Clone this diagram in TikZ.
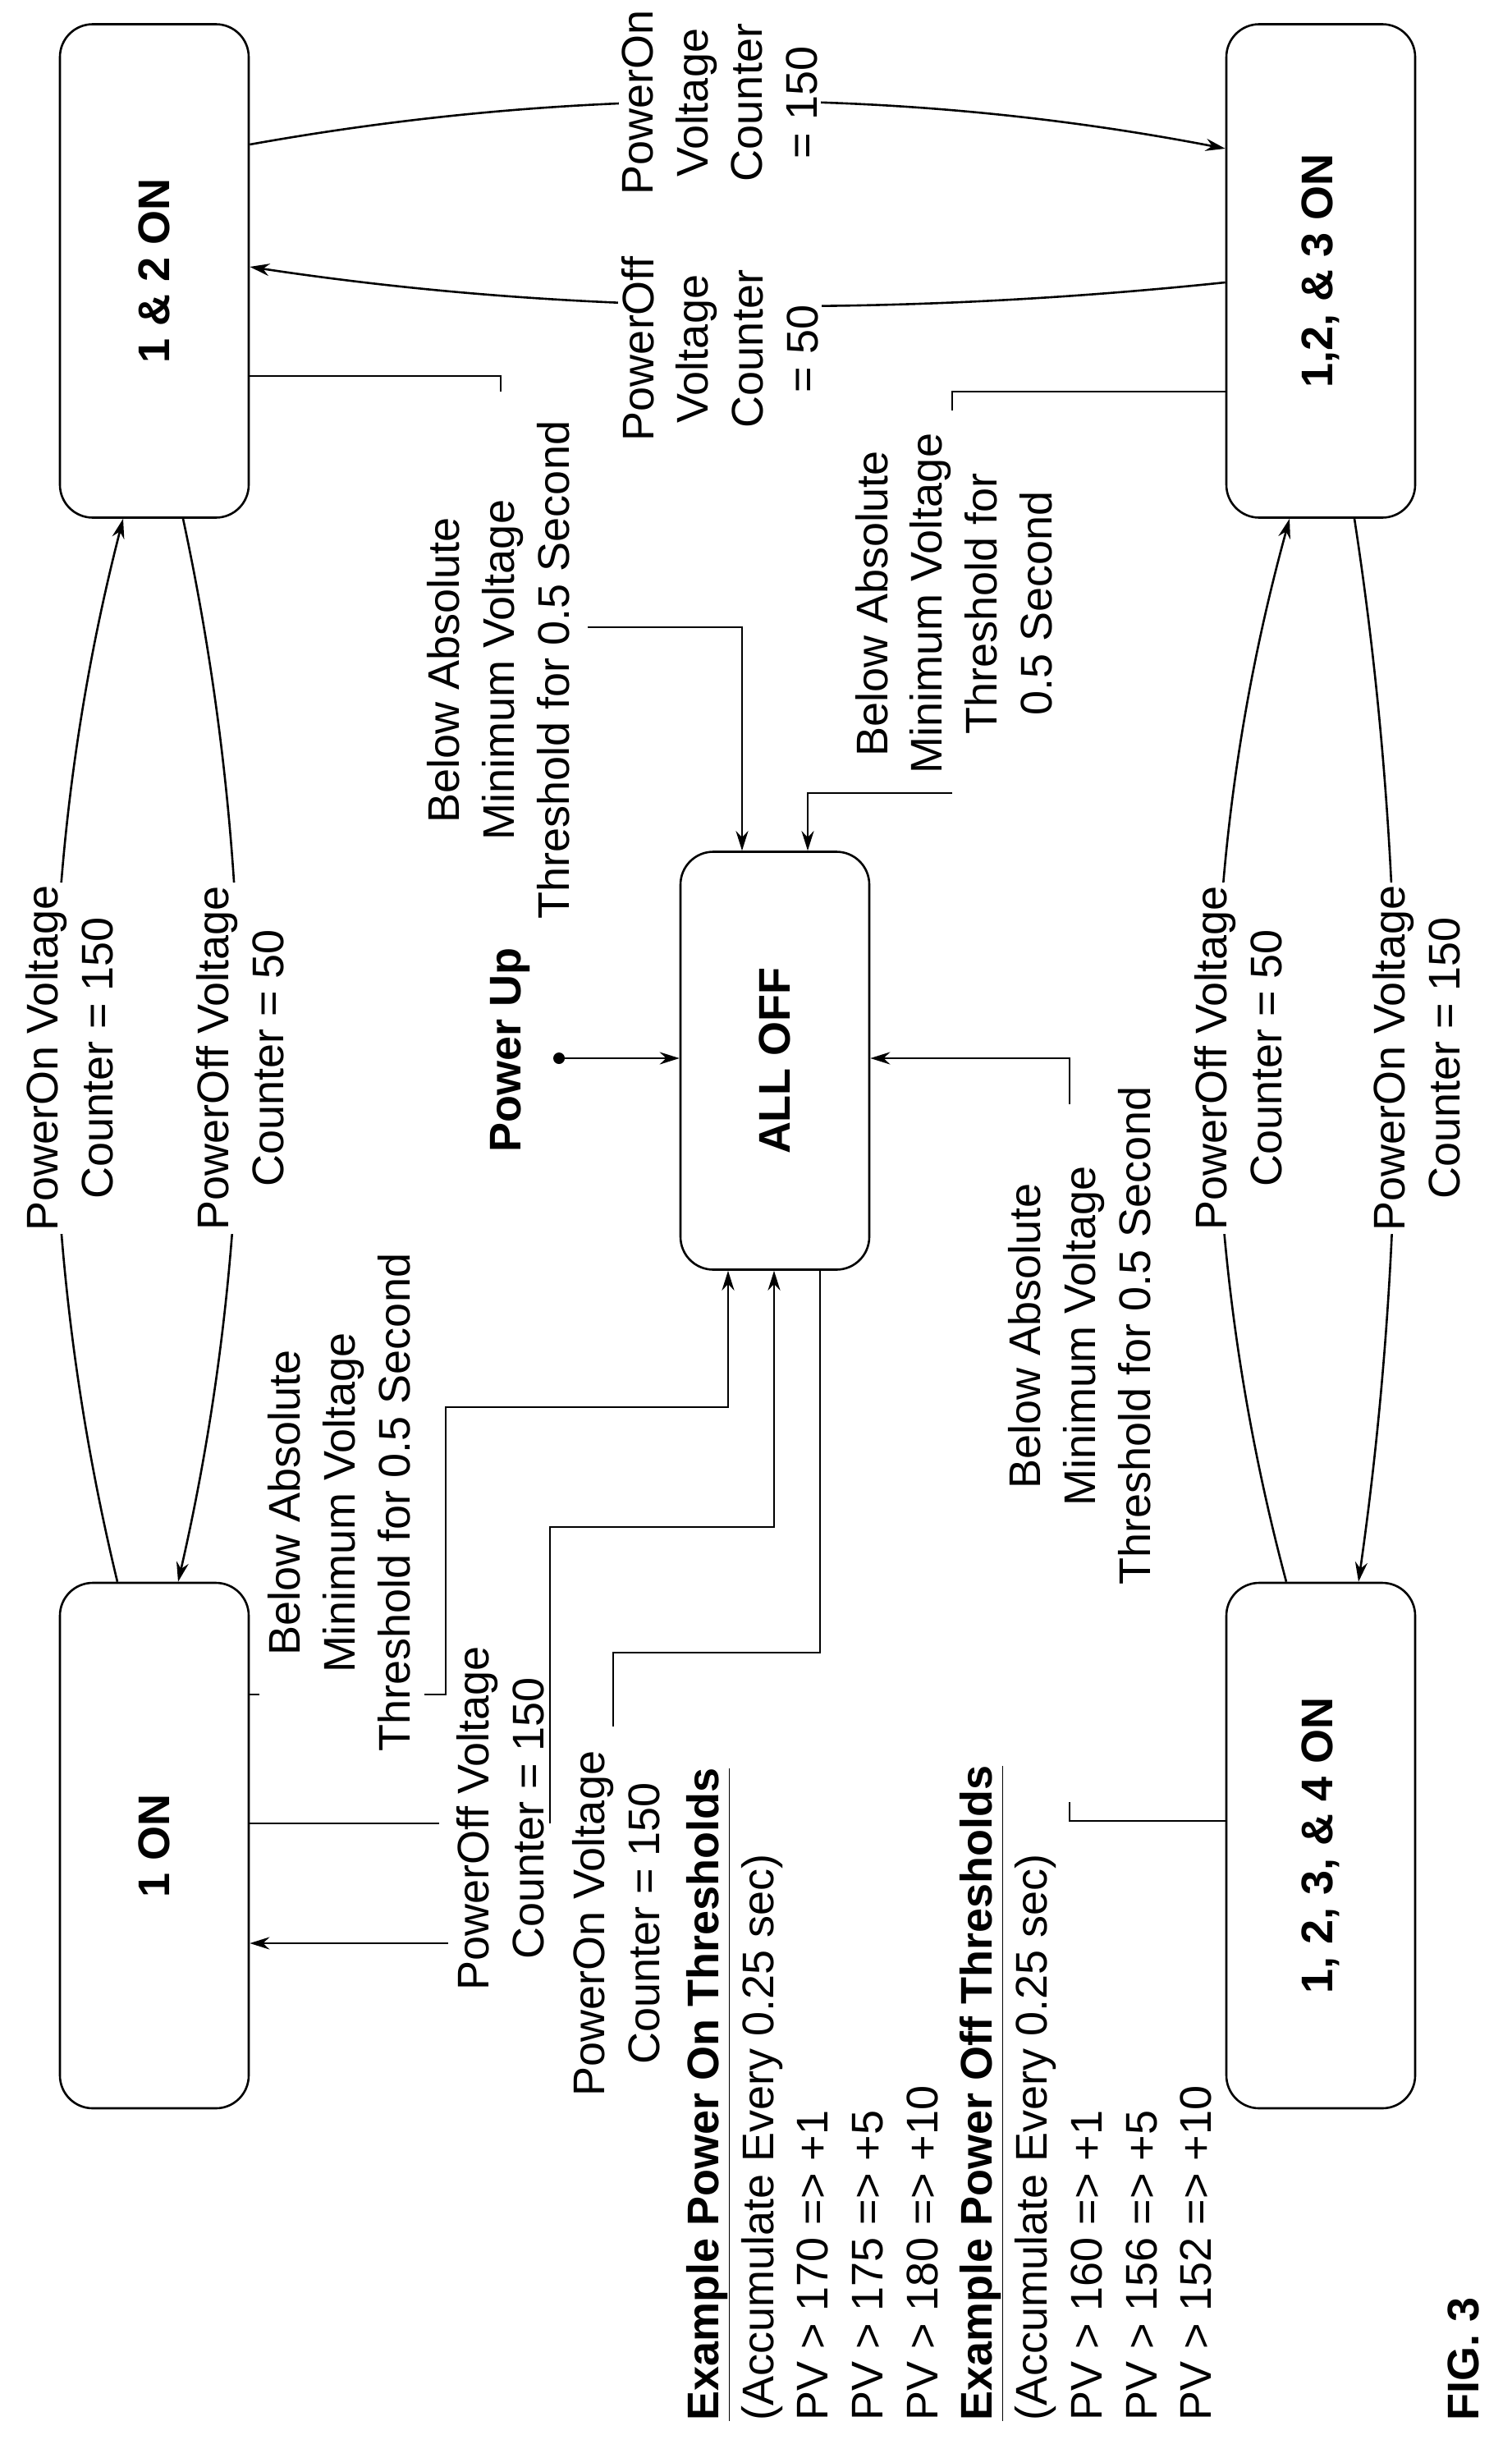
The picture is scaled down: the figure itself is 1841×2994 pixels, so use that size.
\documentclass[tikz,border=0pt]{standalone}
\usepackage{fontspec}
\setmainfont{Liberation Sans}
\usetikzlibrary{arrows.meta}
\begin{document}
\begin{tikzpicture}[x=1pt,y=-1pt,
  line width=2.6pt,
  arr/.style={-{Stealth[length=24pt,width=15pt]}},
  box/.style={draw,rectangle,rounded corners=40pt,minimum width=230pt,inner sep=0pt,font=\fontsize{54}{66.7}\selectfont\bfseries},
  lbl/.style={rotate=90,align=center,font=\fontsize{54}{66.7}\selectfont,inner sep=4pt},
  wl/.style={lbl,fill=white}]
\useasboundingbox[fill=white] (0,0) rectangle (1841,2994);
% boxes
\node[box,minimum height=601pt] (b12) at (188,330) {\rotatebox{90}{1 \& 2 ON}};
\node[box,minimum height=601pt] (b3) at (1609,330) {\rotatebox{90}{1,2, \& 3 ON}};
\node[box,minimum height=509pt] (b0) at (944,1292) {\rotatebox{90}{ALL OFF}};
\node[box,minimum height=640pt] (b1) at (188,2248) {\rotatebox{90}{1 ON}};
\node[box,minimum height=640pt] (b4) at (1609,2248) {\rotatebox{90}{1, 2, 3, \& 4 ON}};
% curved transitions
\draw[arr] (b1.north -| 143,0) .. controls (40,1500) and (40,1060) .. (b12.south -| 150,0);
\draw[arr] (b12.south -| 223,0) .. controls (315,1060) and (315,1500) .. (b1.north -| 217,0);
\draw[arr] (b4.north -| 1567,0) .. controls (1453,1500) and (1453,1060) .. (b3.south -| 1571,0);
\draw[arr] (b3.south -| 1650,0) .. controls (1716,1060) and (1716,1500) .. (b4.north -| 1655,0);
\draw[arr] (b12.east |- 0,176) .. controls (700,105) and (1100,105) .. (b3.west |- 0,181);
\draw[arr] (b3.west |- 0,344) .. controls (1100,385) and (700,385) .. (b12.east |- 0,325);
\node[wl] (l1) at (85,1289) {PowerOn Voltage\\Counter = 150};
\node[wl] (l2) at (293,1289) {PowerOff Voltage\\Counter = 50};
\node[wl] (l3) at (1509,1289) {PowerOff Voltage\\Counter = 50};
\node[wl] (l4) at (1726,1289) {PowerOn Voltage\\Counter = 150};
\node[wl] (l5) at (877,125) {PowerOn\\Voltage\\Counter\\= 150};
\node[wl] (l6) at (877,425) {PowerOff\\Voltage\\Counter\\= 50};
% below-threshold paths
\draw (b12.east |- 0,458) -- (610,458) -- (610,477);
\draw[arr] (716,764) -- (904,764) -- (b0.north -| 904,0);
\node[lbl] (l7) at (607,816) {Below Absolute\\Minimum Voltage\\Threshold for 0.5 Second};
\draw (b3.west |- 0,477) -- (1160,477) -- (1160,500);
\draw[arr] (1160,966) -- (984,966) -- (b0.north -| 984,0);
\node[lbl] (l8) at (1162,735) {Below Absolute\\Minimum Voltage\\Threshold for\\0.5 Second};
\draw (b4.west |- 0,2218) -- (1303,2218) -- (1303,2195);
\draw[arr] (1303,1345) -- (1303,1289) -- (b0.east |- 0,1289);
\node[lbl] (l9) at (1315,1627) {Below Absolute\\Minimum Voltage\\Threshold for 0.5 Second};
% power up
\coordinate (pu) at (681,1289);
\fill (pu) circle (7);
\draw[arr] (pu) -- (b0.west |- pu);
\node[lbl,font=\fontsize{54}{66.7}\selectfont\bfseries] (l10) at (622,1279) {Power Up};
% 1 ON paths
\draw (b1.east |- 0,2064) -- ++(12,0);
\draw[arr] (517,2064) -- (543,2064) -- (543,1714) -- (887,1714) -- (b0.south -| 887,0);
\node[lbl] (l11) at (413,1830) {Below Absolute\\Minimum Voltage\\Threshold for 0.5 Second};
\draw (b1.east |- 0,2221) -- (535,2221);
\draw[arr] (670,2221) -- (670,1860) -- (943,1860) -- (b0.south -| 943,0);
\node[lbl] (l12) at (610,2215) {PowerOff Voltage\\Counter = 150};
\draw (b0.south -| 999,0) -- (999,2013) -- (747,2013) -- (747,2103);
\draw[arr] (546,2367) -- (b1.east |- 0,2367);
\node[lbl] (l13) at (751,2343) {PowerOn Voltage\\Counter = 150};
% thresholds
\node[lbl,align=left,anchor=north west,inner sep=0pt] (th) at (835,2950) {%
\underline{\textbf{Example Power On Thresholds}}\\
(Accumulate Every 0.25 sec)\\
PV > 170 => +1\\
PV > 175 => +5\\
PV > 180 => +10\\
\underline{\textbf{Example Power Off Thresholds}}\\
(Accumulate Every 0.25 sec)\\
PV > 160 => +1\\
PV > 156 => +5\\
PV > 152 => +10};
\node[lbl,anchor=north west,inner sep=0pt,font=\fontsize{54}{66.7}\selectfont\bfseries] (fig) at (1762,2950) {FIG. 3};
\end{tikzpicture}
\end{document}
